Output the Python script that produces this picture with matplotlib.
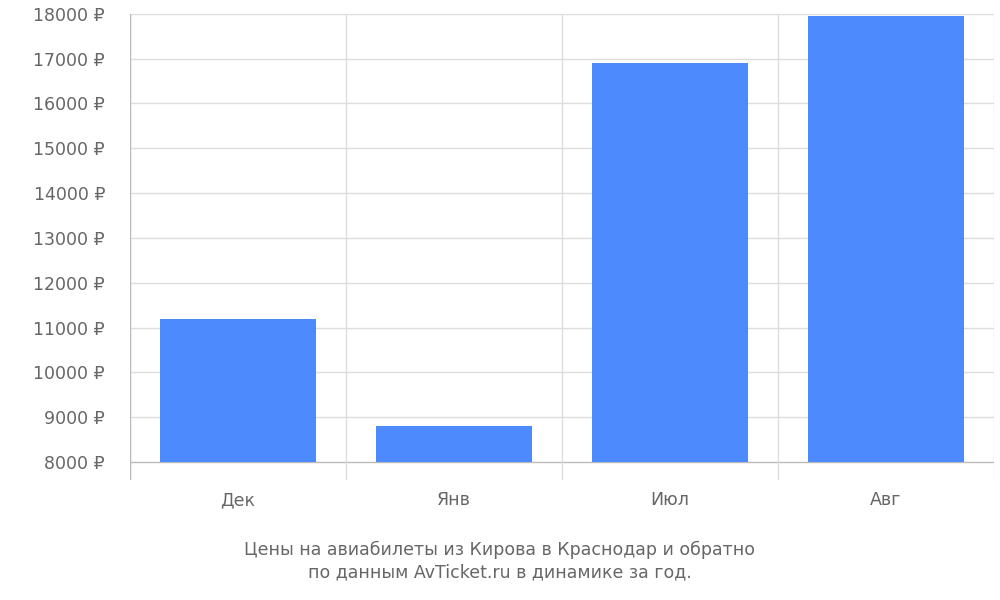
import matplotlib
matplotlib.use("Agg")
import matplotlib.pyplot as plt

categories = ["Дек", "Янв", "Июл", "Авг"]
prices = [11200, 8800, 16900, 17950]
yticks = list(range(8000, 18001, 1000))

fig = plt.figure(figsize=(10, 6), dpi=100)
ax = fig.add_axes([0.13, 0.2, 0.864, 0.777])
base = 8000
ymax = 18000
ymin = base - 18 / 448 * (ymax - base)
ax.set_ylim(ymin, ymax)
ax.set_xlim(0, len(categories))
x = [i + 0.5 for i in range(len(categories))]
ax.bar(x, [p - base for p in prices], bottom=base, width=0.72, color="#4d8afb", zorder=2)

for y in yticks:
    ax.axhline(y, color="#dddddd" if y != base else "#bbbbbb", lw=1, zorder=1)
for i in range(len(categories) + 1):
    ax.axvline(i, color="#dddddd", lw=1, zorder=1)
ax.axvline(0, color="#bbbbbb", lw=1, zorder=3)

for s in ax.spines.values():
    s.set_visible(False)
ax.set_yticks(yticks)
ax.set_yticklabels([f"{y} ₽" for y in yticks], color="#666666", fontsize=12.5)
ax.set_xticks(x)
ax.set_xticklabels(categories, color="#666666", fontsize=12.5)
ax.tick_params(axis="both", length=0, pad=8)
ax.tick_params(axis="y", pad=18)

fig.text(0.5, 0.065, "Цены на авиабилеты из Кирова в Краснодар и обратно\nпо данным AvTicket.ru в динамике за год.",
         ha="center", va="center", color="#666666", fontsize=12.5, linespacing=1.3)
fig.savefig("out.png")
